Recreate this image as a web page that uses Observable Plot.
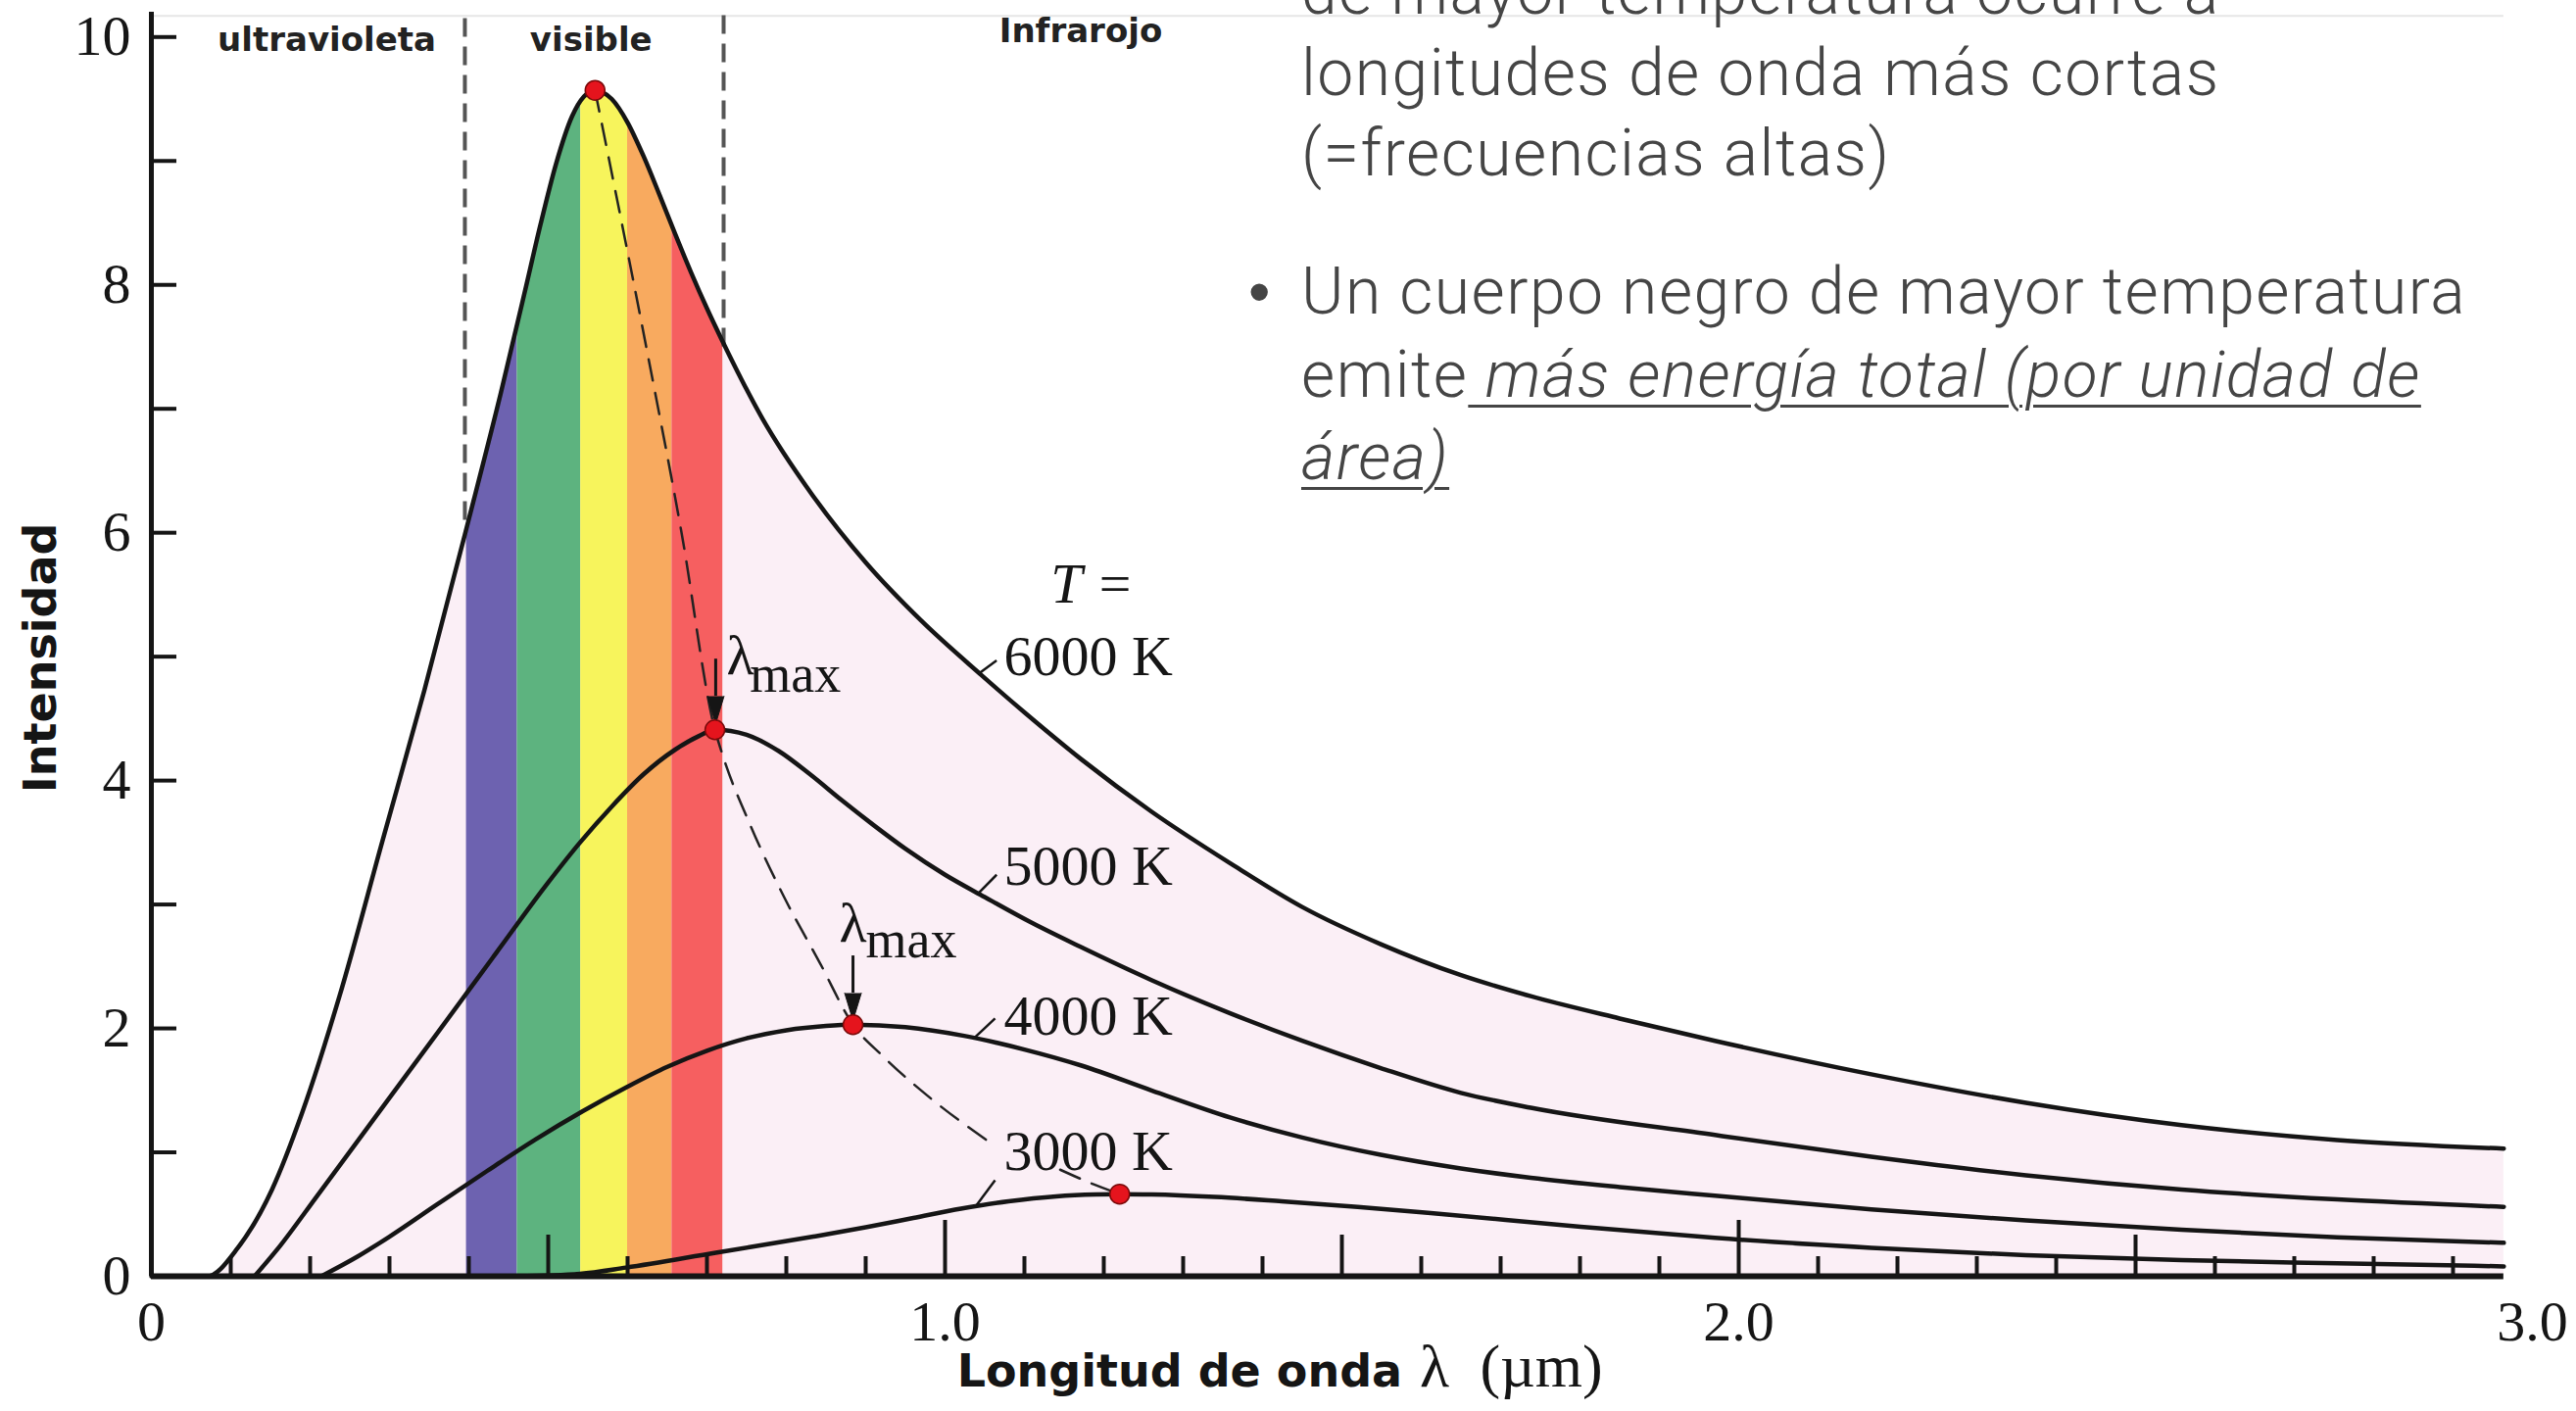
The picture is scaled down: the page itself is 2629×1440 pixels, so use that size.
<!DOCTYPE html>
<html>
<head>
<meta charset="utf-8">
<script src="https://cdn.jsdelivr.net/npm/d3@7"></script>
<script src="https://cdn.jsdelivr.net/npm/@observablehq/plot@0.6"></script>
<style>
html, body { margin: 0; padding: 0; background: #fff; width: 2629px; height: 1440px; overflow: hidden; }
#chart { position: absolute; left: 0; top: 0; }
#notes { position: absolute; left: 0; top: 0; width: 2629px; height: 1440px; pointer-events: none; }
.blk { position: absolute; left: 1328px; font-family: Roboto, "Open Sans", Lato, sans-serif; font-weight: 300;
       font-size: 66px; letter-spacing: 1.5px; color: #454545; white-space: nowrap; }
.em { font-style: italic; text-decoration: underline; text-decoration-thickness: 3px; text-underline-offset: 8px; }
.bul { position: absolute; left: -54px; font-family: "Liberation Sans", Arial, sans-serif; font-weight: 400; font-size: 64px; letter-spacing: 0; }
</style>
</head>
<body>
<div id="chart"></div>
<div id="notes">
  <div class="blk" style="top:-49px; line-height:82.5px">de mayor temperatura ocurre a<br>longitudes de onda más cortas<br>(=frecuencias altas)</div>
  <div class="blk" style="top:256px; line-height:84.5px"><span class="bul">•</span>Un cuerpo negro de mayor temperatura<br>emite<span class="em"> más energía total (por unidad de</span><br><span class="em">área)</span></div>
</div>
<script>
// ---------------- data ----------------
const temps = [6000, 5000, 4000, 3000];

const x6000 = [0, 0.070, 0.109, 0.152, 0.190, 0.237, 0.291, 0.344, 0.400, 0.440, 0.470, 0.490, 0.510, 0.530, 0.545, 0.559, 0.580, 0.600, 0.620, 0.640, 0.660, 0.680, 0.700, 0.720, 0.770, 0.830, 0.900, 0.970, 1.046, 1.100, 1.172, 1.260, 1.360, 1.450, 1.549, 1.650, 1.738, 1.850, 1.970, 2.167, 2.362, 2.558, 2.754, 2.964];
const y6000 = [0, 0, 0.23, 0.70, 1.32, 2.26, 3.51, 4.73, 6.11, 7.12, 7.93, 8.48, 8.98, 9.36, 9.52, 9.57, 9.50, 9.31, 9.04, 8.73, 8.41, 8.10, 7.81, 7.54, 6.92, 6.33, 5.76, 5.29, 4.85, 4.55, 4.17, 3.75, 3.33, 2.98, 2.68, 2.43, 2.26, 2.08, 1.90, 1.63, 1.40, 1.22, 1.10, 1.03];

const x5000 = [0.130, 0.159, 0.209, 0.285, 0.360, 0.430, 0.499, 0.540, 0.580, 0.620, 0.660, 0.690, 0.710, 0.750, 0.790, 0.830, 0.870, 0.910, 0.950, 1.000, 1.050, 1.110, 1.170, 1.260, 1.360, 1.450, 1.549, 1.650, 1.738, 1.970, 2.167, 2.362, 2.558, 2.754, 2.964];
const y5000 = [0, 0.22, 0.65, 1.31, 1.96, 2.57, 3.17, 3.50, 3.79, 4.05, 4.25, 4.36, 4.41, 4.37, 4.24, 4.05, 3.84, 3.64, 3.45, 3.24, 3.06, 2.85, 2.66, 2.39, 2.12, 1.90, 1.68, 1.48, 1.36, 1.14, 0.965, 0.815, 0.70, 0.62, 0.56];

const x4000 = [0.214, 0.260, 0.300, 0.360, 0.423, 0.483, 0.543, 0.600, 0.650, 0.700, 0.750, 0.800, 0.850, 0.884, 0.950, 1.024, 1.100, 1.172, 1.260, 1.360, 1.450, 1.549, 1.650, 1.738, 1.850, 1.970, 2.167, 2.362, 2.558, 2.754, 2.964];
const y4000 = [0, 0.16, 0.32, 0.58, 0.85, 1.10, 1.33, 1.53, 1.69, 1.82, 1.92, 1.985, 2.02, 2.03, 2.01, 1.94, 1.83, 1.70, 1.50, 1.28, 1.12, 0.98, 0.87, 0.795, 0.72, 0.65, 0.54, 0.45, 0.375, 0.315, 0.27];

const x3000 = [0.460, 0.540, 0.598, 0.711, 0.834, 0.900, 0.960, 1.020, 1.080, 1.140, 1.190, 1.220, 1.260, 1.340, 1.424, 1.520, 1.612, 1.801, 1.970, 2.167, 2.362, 2.558, 2.754, 2.964];
const y3000 = [0, 0.02, 0.07, 0.19, 0.32, 0.395, 0.47, 0.545, 0.605, 0.645, 0.66, 0.663, 0.66, 0.64, 0.605, 0.56, 0.51, 0.40, 0.31, 0.23, 0.17, 0.13, 0.105, 0.08];

// visible spectrum bands (µm)
const bandNames = ["violeta", "verde", "amarillo", "naranja", "rojo"];
const bandEdges = [0.397, 0.461, 0.541, 0.600, 0.656, 0.720];

// region labels and boundaries
const regionNames = ["ultravioleta", "visible", "Infrarojo"];
const regionLabelX = [0.221, 0.554, 1.171];
const regionLabelY = [9.89, 9.89, 9.96];
const regionEdgeX = [0.395, 0.721];
const regionEdgeY = [6.1, 7.5];   // where each dashed boundary meets the 6000 K curve
const frameTopY = 10.17;          // faint top border of the figure

// peaks (λmax)
const peakX = [0.559, 0.710, 0.884, 1.220];
const peakY = [9.57, 4.41, 2.03, 0.663];

// Wien locus (dashed), two pieces interrupted by the "3000 K" label
const wienX = [0.559, 0.625, 0.668, 0.710, 0.719, 0.756, 0.798, 0.843, 0.884, 0.921, 0.983, 1.052, 1.145, 1.188, 1.220];
const wienY = [9.57, 7.45, 6.00, 4.41, 4.22, 3.62, 3.05, 2.52, 2.03, 1.78, 1.43, 1.10, 0.86, 0.74, 0.663];
const wienSeg = [1, 1, 1, 1, 1, 1, 1, 1, 1, 1, 1, 1, 2, 2, 2];

// temperature labels
const tempLabels = ["6000 K", "5000 K", "4000 K", "3000 K"];
const tempLabelX = 1.074;
const tempLabelY = [4.85, 3.16, 1.95, 0.855];
const leaderX1 = [1.042, 1.042, 1.038, 1.038];
const leaderY1 = [4.86, 3.09, 1.93, 0.56];
const leaderX2 = [1.065, 1.065, 1.063, 1.063];
const leaderY2 = [4.97, 3.24, 2.08, 0.775];

// λmax arrows (5000 K and 4000 K)
const arrowX = [0.711, 0.884];
const arrowTop = [4.98, 2.585];
const arrowBase = [4.68, 2.285];
const lambdaX = [0.742, 0.884];
const lambdaY = [4.86, 2.70];
const maxX = [0.754, 0.900];
const maxY = [4.72, 2.57];

// axes
const xTickValues = [0, 1, 2, 3];
const xTickLabels = ["0", "1.0", "2.0", "3.0"];
const yTickValues = [0, 2, 4, 6, 8, 10];
const yTickLabels = ["0", "2", "4", "6", "8", "10"];
const yMinorTicks = [1, 3, 5, 7, 9];
const xMinorTicks = [0.1, 0.2, 0.3, 0.4, 0.6, 0.7, 0.8, 0.9, 1.1, 1.2, 1.3, 1.4, 1.6, 1.7, 1.8, 1.9, 2.1, 2.2, 2.3, 2.4, 2.6, 2.7, 2.8, 2.9];
const xHalfTicks = [0.5, 1.5, 2.5];
const xUnitTicks = [1, 2];

// ---------------- styles ----------------
const bandColors = ["#6d62b0", "#5db37f", "#f7f45c", "#f8aa5f", "#f65f60"];
const pink = "#fbeff6";
const serif = "'Liberation Serif', 'Times New Roman', serif";
const sans = "'DejaVu Sans', Verdana, sans-serif";
const ink = "#151515";

// ---------------- build tables ----------------
const curveX = [x6000, x5000, x4000, x3000];
const curveY = [y6000, y5000, y4000, y3000];
const rows = temps.flatMap((T, k) => curveX[k].map((x, i) => ({T, x, y: curveY[k][i]})));
const c6000 = rows.filter(d => d.T === 6000);
const yMax = 10.2;
const xEnd = d3.max(x6000);

const bands = bandNames.map((name, i) => ({name, x1: bandEdges[i], x2: bandEdges[i + 1]}));
const regions = regionNames.map((name, i) => ({name, x: regionLabelX[i], y: regionLabelY[i]}));
const edges = regionEdgeX.map((x, i) => ({x, y: regionEdgeY[i]}));
const peaks = peakX.map((x, i) => ({x, y: peakY[i]}));
const wien = wienX.map((x, i) => ({x, y: wienY[i], seg: wienSeg[i]}));
const tlabels = tempLabels.map((t, i) => ({t, x: tempLabelX, y: tempLabelY[i]}));
const leaders = leaderX1.map((x1, i) => ({x1, y1: leaderY1[i], x2: leaderX2[i], y2: leaderY2[i]}));
const arrows = arrowX.map((x, i) => ({x, top: arrowTop[i], base: arrowBase[i]}));
const lambdas = lambdaX.map((x, i) => ({lx: x, ly: lambdaY[i], mx: maxX[i], my: maxY[i]}));

const tickOnly = {fill: "none", stroke: ink, strokeWidth: 4, label: null};

const plot = Plot.plot({
  width: 2629,
  height: 1440,
  marginLeft: 154,
  marginRight: 45,
  marginTop: 12,
  marginBottom: 138,
  x: {domain: [0, 3], label: null},
  y: {domain: [0, yMax], label: null},
  style: {background: "white", color: ink, fontFamily: serif, overflow: "visible"},
  marks: [
    // pink field under the curves
    Plot.rect([{x1: 0, x2: xEnd}], {x1: "x1", x2: "x2", y1: 0, y2: yMax, fill: pink}),
    // visible spectrum bands
    ...bands.map((b, i) => Plot.rect([b], {x1: "x1", x2: "x2", y1: 0, y2: yMax, fill: bandColors[i]})),
    // white above the 6000 K curve
    Plot.areaY(c6000, {x: "x", y1: "y", y2: yMax, fill: "white", curve: "monotone-x"}),
    // faint top border of the figure
    Plot.ruleY([frameTopY], {x1: 0, x2: xEnd, stroke: "#e6e6e6", strokeWidth: 2}),
    // dashed region boundaries
    Plot.ruleX(edges, {x: "x", y1: "y", y2: yMax, stroke: "#555", strokeWidth: 4, strokeDasharray: "19,10"}),
    Plot.text(regions, {x: "x", y: "y", text: "name", fontFamily: sans, fontWeight: "bold", fontSize: 34, fill: "#222", textAnchor: "middle", lineAnchor: "bottom"}),
    // Wien locus
    Plot.line(wien, {x: "x", y: "y", z: "seg", stroke: "#222", strokeWidth: 2.5, strokeDasharray: "22,13", curve: "monotone-x"}),
    // Planck curves
    Plot.line(rows, {x: "x", y: "y", z: "T", stroke: ink, strokeWidth: 4.5, curve: "monotone-x"}),
    // label leaders
    Plot.link(leaders, {x1: "x1", y1: "y1", x2: "x2", y2: "y2", stroke: ink, strokeWidth: 2.5}),
    // λmax arrows
    Plot.ruleX(arrows, {x: "x", y1: "top", y2: "base", stroke: ink, strokeWidth: 3}),
    Plot.vector(arrows, {x: "x", y: "base", length: 28, r: 8.5, rotate: 180, anchor: "start", shape: "spike", fill: ink, stroke: ink, strokeWidth: 1}),
    // peaks
    Plot.dot(peaks, {x: "x", y: "y", r: 10, fill: "#e5141d", stroke: "#7a0a0a", strokeWidth: 1.5}),
    // labels
    Plot.text(tlabels, {x: "x", y: "y", text: "t", fontFamily: serif, fontSize: 58, fill: ink, textAnchor: "start", lineAnchor: "bottom"}),
    Plot.text(["T ="], {x: () => 1.133, y: () => 5.44, text: d => d, fontFamily: serif, fontStyle: "italic", fontSize: 58, fill: ink, textAnchor: "start", lineAnchor: "bottom"}),
    Plot.text(lambdas, {x: "lx", y: "ly", text: () => "λ", fontFamily: serif, fontSize: 58, fill: ink, textAnchor: "middle", lineAnchor: "bottom"}),
    Plot.text(lambdas, {x: "mx", y: "my", text: () => "max", fontFamily: serif, fontSize: 54, fill: ink, textAnchor: "start", lineAnchor: "bottom"}),
    // axes
    Plot.ruleX([0], {y1: 0, y2: yMax, stroke: ink, strokeWidth: 5}),
    Plot.ruleY([0], {x1: 0, x2: xEnd, stroke: ink, strokeWidth: 6}),
    Plot.axisY([...yTickValues, ...yMinorTicks], {anchor: "left", tickSize: -26, ...tickOnly}),
    Plot.axisY(yTickValues, {anchor: "left", tickSize: 0, tickPadding: 21, tickFormat: d => yTickLabels[yTickValues.indexOf(d)], fontFamily: serif, fontSize: 58, fill: ink, label: null}),
    Plot.axisX(xMinorTicks, {anchor: "bottom", tickSize: -20, ...tickOnly}),
    Plot.axisX(xHalfTicks, {anchor: "bottom", tickSize: -42, ...tickOnly}),
    Plot.axisX(xUnitTicks, {anchor: "bottom", tickSize: -57, ...tickOnly}),
    Plot.axisX(xTickValues, {anchor: "bottom", tickSize: 0, tickPadding: 24, tickFormat: d => xTickLabels[xTickValues.indexOf(d)], fontFamily: serif, fontSize: 58, fill: ink, label: null}),
    // axis titles
    Plot.text(["Intensidad"], {x: () => -0.138, y: () => 4.99, text: d => d, rotate: -90, fontFamily: sans, fontWeight: "bold", fontSize: 46, fill: ink, textAnchor: "middle"}),
    Plot.text(["Longitud de onda"], {x: () => 1.015, y: () => -0.893, text: d => d, fontFamily: sans, fontWeight: "bold", fontSize: 46, fill: ink, textAnchor: "start", lineAnchor: "bottom"}),
    Plot.text(["λ"], {x: () => 1.598, y: () => -0.893, text: d => d, fontFamily: serif, fontSize: 62, fill: ink, textAnchor: "start", lineAnchor: "bottom"}),
    Plot.text(["(µm)"], {x: () => 1.674, y: () => -0.893, text: d => d, fontFamily: serif, fontSize: 62, fill: ink, textAnchor: "start", lineAnchor: "bottom"})
  ]
});
document.getElementById("chart").appendChild(plot);
</script>
</body>
</html>
